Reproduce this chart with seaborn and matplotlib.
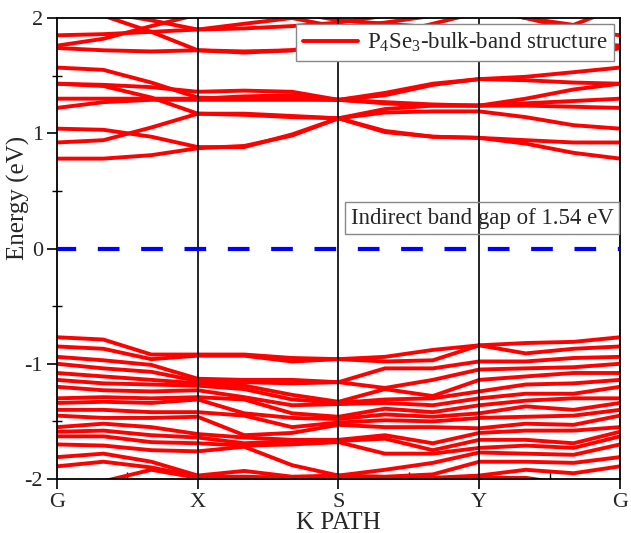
import numpy as np
import pandas as pd
import matplotlib
matplotlib.use("Agg")
import matplotlib.pyplot as plt
from matplotlib.lines import Line2D
import seaborn as sns

# High-symmetry path and sampling along it (13 k-points, G-X-S-Y-G)
path_labels = ["G", "X", "S", "Y", "G"]
path_ticks = [0, 1, 2, 3, 4]
k_points = [0, 0.33, 0.67, 1, 1.33, 1.67, 2, 2.33, 2.67, 3, 3.33, 3.67, 4]

# Conduction bands (eV)
conduction_bands = [
    [0.78, 0.78, 0.81, 0.87, 0.89, 0.98, 1.13, 1.01, 0.97, 0.96, 0.91, 0.83, 0.78],
    [0.92, 0.94, 1.05, 1.17, 1.17, 1.15, 1.13, 1.18, 1.19, 1.19, 1.14, 1.07, 1.04],
    [1.04, 1.03, 0.97, 0.88, 0.88, 0.99, 1.13, 1.02, 0.97, 0.96, 0.94, 0.92, 0.92],
    [1.22, 1.27, 1.29, 1.29, 1.29, 1.29, 1.29, 1.27, 1.25, 1.24, 1.24, 1.23, 1.22],
    [1.30, 1.30, 1.30, 1.30, 1.32, 1.33, 1.29, 1.26, 1.24, 1.24, 1.26, 1.28, 1.30],
    [1.43, 1.41, 1.31, 1.17, 1.16, 1.14, 1.13, 1.21, 1.24, 1.24, 1.30, 1.38, 1.43],
    [1.57, 1.55, 1.44, 1.31, 1.30, 1.30, 1.29, 1.35, 1.43, 1.47, 1.49, 1.53, 1.57],
    [1.43, 1.42, 1.40, 1.36, 1.37, 1.36, 1.29, 1.33, 1.42, 1.47, 1.46, 1.44, 1.43],
    [1.74, 1.72, 1.71, 1.72, 1.71, 1.72, 1.78, 1.80, 1.78, 1.72, 1.66, 1.64, 1.74],
    [1.76, 1.82, 1.93, 2.03, 2.08, 2.05, 1.98, 1.95, 1.92, 1.90, 1.85, 1.80, 1.76],
    [1.85, 1.86, 1.88, 1.90, 1.91, 1.93, 1.96, 2.02, 2.06, 2.08, 2.00, 1.90, 1.85],
    [2.10, 2.02, 1.88, 1.72, 1.70, 1.72, 1.78, 1.85, 1.95, 2.05, 2.08, 2.05, 2.10],
    [2.10, 2.05, 1.98, 1.90, 1.95, 2.00, 1.92, 1.96, 2.02, 2.08, 2.00, 1.94, 2.10],
]

# Valence bands (eV)
valence_bands = [
    [-0.77, -0.79, -0.92, -0.92, -0.92, -0.95, -0.96, -0.94, -0.88, -0.84, -0.82, -0.81, -0.77],
    [-0.85, -0.87, -0.96, -0.93, -0.93, -0.98, -0.96, -0.98, -0.97, -0.84, -0.91, -0.87, -0.85],
    [-0.94, -0.97, -1.01, -1.13, -1.14, -1.14, -1.16, -1.04, -1.04, -0.98, -0.98, -0.95, -0.94],
    [-1.00, -1.04, -1.07, -1.15, -1.16, -1.17, -1.16, -1.21, -1.14, -1.05, -1.04, -1.03, -1.00],
    [-1.08, -1.11, -1.14, -1.17, -1.19, -1.27, -1.33, -1.22, -1.28, -1.14, -1.11, -1.08, -1.08],
    [-1.14, -1.17, -1.18, -1.19, -1.22, -1.31, -1.34, -1.31, -1.30, -1.24, -1.18, -1.17, -1.14],
    [-1.20, -1.23, -1.24, -1.23, -1.29, -1.36, -1.35, -1.34, -1.36, -1.30, -1.26, -1.26, -1.20],
    [-1.30, -1.29, -1.30, -1.29, -1.31, -1.43, -1.46, -1.39, -1.42, -1.36, -1.32, -1.30, -1.30],
    [-1.34, -1.33, -1.34, -1.31, -1.43, -1.47, -1.48, -1.44, -1.46, -1.43, -1.37, -1.40, -1.34],
    [-1.40, -1.40, -1.42, -1.42, -1.45, -1.55, -1.51, -1.49, -1.50, -1.47, -1.46, -1.45, -1.40],
    [-1.45, -1.47, -1.47, -1.46, -1.62, -1.60, -1.53, -1.55, -1.55, -1.56, -1.52, -1.53, -1.45],
    [-1.55, -1.52, -1.55, -1.61, -1.64, -1.66, -1.66, -1.62, -1.69, -1.60, -1.58, -1.58, -1.55],
    [-1.59, -1.58, -1.62, -1.64, -1.69, -1.67, -1.67, -1.65, -1.75, -1.66, -1.66, -1.69, -1.59],
    [-1.63, -1.63, -1.68, -1.69, -1.71, -1.70, -1.68, -1.78, -1.78, -1.73, -1.71, -1.73, -1.63],
    [-1.70, -1.71, -1.75, -1.76, -1.72, -1.88, -1.97, -1.92, -1.86, -1.77, -1.78, -1.79, -1.70],
    [-1.81, -1.78, -1.85, -1.97, -1.93, -1.98, -1.97, -1.98, -1.96, -1.85, -1.85, -1.86, -1.81],
    [-1.89, -1.85, -1.90, -1.98, -1.98, -1.99, -1.98, -1.99, -1.99, -1.97, -1.92, -1.95, -1.89],
    [-2.10, -2.02, -1.92, -1.99, -1.99, -2.00, -1.99, -2.00, -2.00, -1.99, -1.99, -2.05, -2.10],
]

fermi_level = 0.0
gap_text = "Indirect band gap of 1.54 eV"
legend_text = r"P$_4$Se$_3$-bulk-band structure"

rows = []
for i, band in enumerate(conduction_bands + valence_bands):
    for k, e in zip(k_points, band):
        rows.append({"k": k, "energy": e, "band": i})
df = pd.DataFrame(rows)

sns.set_theme(style="white")
plt.rcParams["font.family"] = ["Liberation Serif", "DejaVu Serif"]
plt.rcParams["mathtext.fontset"] = "custom"
plt.rcParams["mathtext.rm"] = "Liberation Serif"
plt.rcParams["mathtext.it"] = "Liberation Serif:italic"
plt.rcParams["axes.unicode_minus"] = False
plt.rcParams["lines.solid_joinstyle"] = "round"
plt.rcParams["lines.solid_capstyle"] = "round"

fig = plt.figure(figsize=(6.31, 5.33), dpi=100)
ax = fig.add_axes([0.0903, 0.1013, 0.8923, 0.8649])

sns.lineplot(data=df, x="k", y="energy", units="band", estimator=None,
             sort=False, color="#ff0000", linewidth=2.8, ax=ax, legend=False,
             zorder=2)

for t in path_ticks[1:-1]:
    ax.axvline(t, color="black", linewidth=1.2, zorder=3)

ax.axhline(fermi_level, color="#0000ff", linewidth=3.0,
           linestyle=(0.6, (5.2, 5.2)), zorder=4)

ax.set_xlim(0, 4)
ax.set_ylim(-2, 2)
ax.set_xticks(path_ticks)
ax.set_xticklabels(path_labels)
ax.set_xticks([0.5, 1.5, 2.5, 3.5], minor=True)
ax.set_yticks([-2, -1, 0, 1, 2])
ax.set_yticklabels(["-2", "-1", "0", "1", "2"])
ax.set_yticks([-1.5, -0.5, 0.5, 1.5], minor=True)

ax.tick_params(axis="both", which="major", direction="out", length=7,
               width=1.2, color="black", labelsize=16, pad=3,
               bottom=True, left=True, top=False, right=False)
ax.tick_params(axis="x", which="minor", direction="in", length=5,
               width=1.0, color="black", bottom=True, top=False)
ax.tick_params(axis="y", which="minor", direction="inout", length=7,
               width=1.0, color="black", left=True, right=False)

for sp in ax.spines.values():
    sp.set_color("black")
    sp.set_linewidth(1.3)

ax.set_xlabel("K PATH", fontsize=18)
ax.xaxis.set_label_coords(0.5, -0.072, transform=ax.transAxes)
ax.xaxis.label.set_va("top")
ax.set_ylabel("Energy (eV)", fontsize=18)
ax.yaxis.set_label_coords(-0.068, 0.61, transform=ax.transAxes)
ax.yaxis.label.set_va("center")

handle = Line2D([], [], color="#ff0000", linewidth=2.8)
leg = ax.legend([handle], [legend_text], loc="upper right", fontsize=16.5,
                frameon=True, fancybox=False, framealpha=1, edgecolor="#888888",
                borderaxespad=0.25, handlelength=2.4, handletextpad=0.4,
                borderpad=0.3)
leg.get_frame().set_linewidth(1.0)
leg.set_zorder(10)

ax.text(0.988, 0.566, gap_text, transform=ax.transAxes, ha="right",
        va="center", fontsize=16.5, zorder=6,
        bbox=dict(boxstyle="square,pad=0.25", facecolor="none",
                  edgecolor="#888888", linewidth=1.0))

fig.savefig("out.png", dpi=100)
